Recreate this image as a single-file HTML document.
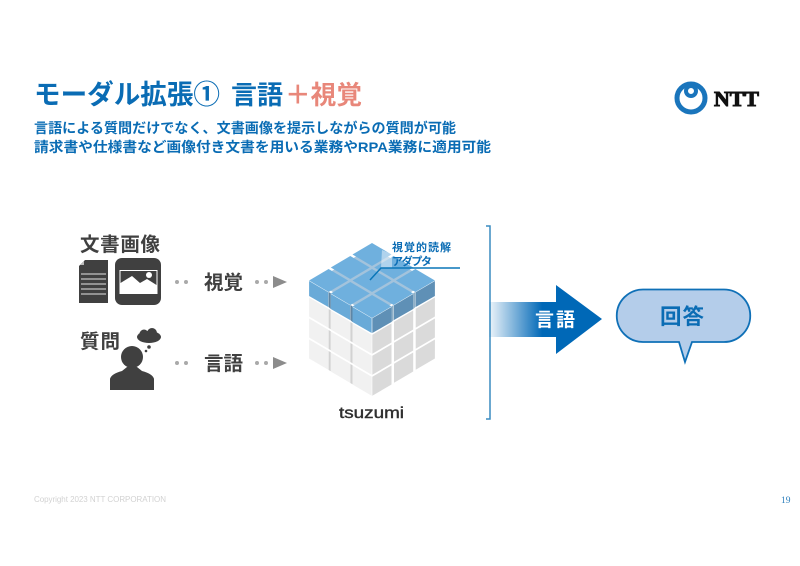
<!DOCTYPE html>
<html lang="ja"><head><meta charset="utf-8"><title>モーダル拡張</title>
<style>html,body{margin:0;padding:0;background:#fff;width:800px;height:566px;overflow:hidden}svg{display:block}
text{font-family:"Liberation Sans","Noto Sans CJK JP",sans-serif}</style></head>
<body>
<svg width="800" height="566" viewBox="0 0 800 566" xmlns="http://www.w3.org/2000/svg">
<defs>
<linearGradient id="ag" x1="488" x2="556" y1="0" y2="0" gradientUnits="userSpaceOnUse"><stop offset="0" stop-color="#0068b7" stop-opacity=".05"/><stop offset=".8" stop-color="#0068b7"/><stop offset="1" stop-color="#0068b7"/></linearGradient>
<polygon id="t" points="0,0 19.5,11.5 0,23 -19.5,11.5" fill="#6fb0de"/>
<polygon id="bl" points="-19.5,12 -0.3,23.3 -0.3,38 -19.5,27" fill="#69aad8"/>
<polygon id="br" points="19.5,12 0.3,23.3 0.3,38 19.500,27" fill="#5f90b6"/>
<polygon id="l" points="-19.5,-11.500 -0.3,-0.2 -0.3,18.8 -19.5,7.500" fill="#f1f1f1"/>
<polygon id="s" points="0,0 2.200,1.300 2.200,20.300 0,19" fill="#d2d2d2"/>
<polygon id="r" points="19.5,-11.500 0.3,-0.2 0.3,18.800 19.500,7.500" fill="#dadada"/>
</defs>

<!-- heading -->
<text x="34" y="104" font-size="27" font-weight="700" fill="#0a6cb4" textLength="186" lengthAdjust="spacingAndGlyphs">モーダル拡張①</text>
<text x="231" y="104" font-size="26" font-weight="700" fill="#0a6cb4" textLength="52" lengthAdjust="spacingAndGlyphs">言語</text>
<text x="285" y="104" font-size="26" font-weight="700" fill="#e8877a" textLength="77" lengthAdjust="spacingAndGlyphs">＋視覚</text>
<text x="34" y="133" font-size="14" font-weight="700" fill="#0a6cb4" textLength="422" lengthAdjust="spacingAndGlyphs">言語による質問だけでなく、文書画像を提示しながらの質問が可能</text>
<text x="34" y="152" font-size="14" font-weight="700" fill="#0a6cb4" textLength="457" lengthAdjust="spacingAndGlyphs">請求書や仕様書など画像付き文書を用いる業務やRPA業務に適用可能</text>

<!-- NTT logo -->
<circle cx="691" cy="98" r="14" fill="none" stroke="#1a75bc" stroke-width="5"/>
<circle cx="691" cy="91" r="5" fill="none" stroke="#1a75bc" stroke-width="4"/>
<text x="714" y="106" font-size="21" font-weight="700" fill="#111" textLength="45" lengthAdjust="spacingAndGlyphs" style='font-family:"Liberation Serif",serif;stroke:#111;stroke-width:1'>NTT</text>

<!-- left inputs -->
<text x="80" y="251" font-size="19.500" font-weight="700" fill="#404040" textLength="80">文書画像</text>
<polygon points="85,260 108,260 108,303 79,303 79,266" fill="#404040"/>
<polygon points="84,261 84,265 80,265" fill="#bbb"/>
<g stroke="#e4e4e4" stroke-width="1"><line x1="81" x2="106" y1="274" y2="274"/><line x1="81" x2="106" y1="279" y2="279"/><line x1="81" x2="106" y1="284" y2="284"/><line x1="81" x2="106" y1="289" y2="289"/><line x1="81" x2="106" y1="294" y2="294"/></g>
<rect x="115" y="258" width="46" height="47" rx="7" fill="#404040"/>
<rect x="119.500" y="270" width="38" height="24" fill="#fff"/>
<polygon points="120.500,271 156.500,271 156.500,285 147,279 140,283 132,276 120.500,283" fill="#404040"/>
<circle cx="149" cy="275" r="3" fill="#fff"/>
<text x="80" y="348" font-size="19.500" font-weight="700" fill="#404040" textLength="40">質問</text>
<circle cx="132" cy="357" r="11" fill="#404040"/>
<path d="M110,390 V379 Q111,374 122,371 L127,367 H137 L142,371 Q153,374 154,379 V390 Z" fill="#404040"/>
<g fill="#404040"><ellipse cx="149" cy="337" rx="12" ry="6"/><circle cx="144" cy="334" r="4.500"/><circle cx="152" cy="333" r="5"/><circle cx="149" cy="347" r="1.800"/><circle cx="146" cy="351" r="1.300"/></g>

<g fill="#a9a9a9"><circle cx="177" cy="282" r="2"/><circle cx="186" cy="282" r="2"/><circle cx="257" cy="282" r="2"/><circle cx="266" cy="282" r="2"/><circle cx="177" cy="363" r="2"/><circle cx="186" cy="363" r="2"/><circle cx="257" cy="363" r="2"/><circle cx="266" cy="363" r="2"/></g>
<polygon points="273,276 287,282 273,288" fill="#8c8c8c"/>
<polygon points="273,357 287,363 273,369" fill="#8c8c8c"/>
<text x="204" y="289" font-size="19.500" font-weight="700" fill="#404040" textLength="39">視覚</text>
<text x="204" y="370" font-size="19.500" font-weight="700" fill="#404040" textLength="39">言語</text>

<!-- cube lower layers -->
<g>
<use href="#l" x="328.600" y="309"/><use href="#s" x="328.600" y="309"/><use href="#l" x="350.300" y="322"/><use href="#s" x="350.300" y="322"/><use href="#l" x="372" y="335"/>
<use href="#l" x="328.600" y="330"/><use href="#s" x="328.600" y="330"/><use href="#l" x="350.300" y="343"/><use href="#s" x="350.300" y="343"/><use href="#l" x="372" y="356"/>
<use href="#l" x="328.600" y="351"/><use href="#s" x="328.600" y="351"/><use href="#l" x="350.300" y="364"/><use href="#s" x="350.300" y="364"/><use href="#l" x="372" y="377"/>
<use href="#r" x="372" y="335"/><use href="#r" x="393.700" y="322"/><use href="#r" x="415.400" y="309"/>
<use href="#r" x="372" y="356"/><use href="#r" x="393.700" y="343"/><use href="#r" x="415.400" y="330"/>
<use href="#r" x="372" y="377"/><use href="#r" x="393.700" y="364"/><use href="#r" x="415.400" y="351"/>
</g>
<!-- cube blue layer -->
<polygon points="372,247 429,281 372,316 315,281" fill="#a3c3dc"/>
<polygon points="328.600,292 330.800,293.300 330.800,309 328.600,307" fill="#5f86a5"/>
<polygon points="350.300,305 352.500,306.300 352.500,322 350.300,320" fill="#5f86a5"/>
<polygon points="391.500,306.300 393.700,305 393.700,320 391.500,322" fill="#8fb0c8"/>
<polygon points="413.200,293.300 415.400,292 415.400,307 413.200,309" fill="#8fb0c8"/>
<g>
<use href="#t" x="372" y="243"/>
<use href="#t" x="350.300" y="256"/><use href="#t" x="393.700" y="256"/>
<use href="#t" x="328.600" y="269"/><use href="#t" x="372" y="269"/><use href="#t" x="415.400" y="269"/>
<use href="#t" x="350.300" y="282"/><use href="#t" x="393.700" y="282"/>
<use href="#t" x="372" y="295"/>
<use href="#bl" x="328.600" y="269"/><use href="#bl" x="350.300" y="282"/><use href="#bl" x="372" y="295"/>
<use href="#br" x="372" y="295"/><use href="#br" x="393.700" y="282"/><use href="#br" x="415.400" y="269"/>
</g>
<polygon points="382,250 392,254 392,268 381,268" fill="#fff" fill-opacity=".45"/>
<polyline points="370,280 381,268 460,268" fill="none" stroke="#0a76b8" stroke-width="1.500"/>
<text x="392" y="251" font-size="11" font-weight="700" fill="#0a6cb4" textLength="59">視覚的読解</text>
<text x="392" y="265" font-size="11" font-weight="700" fill="#0a6cb4" textLength="40">アダプタ</text>
<text x="339" y="418" font-size="15.500" fill="#2f2f2f" textLength="65" lengthAdjust="spacingAndGlyphs" style="stroke:#2f2f2f;stroke-width:.4">tsuzumi</text>

<!-- bracket and arrow -->
<polyline points="486,226 490,226 490,419 486,419" fill="none" stroke="#3a8cc0" stroke-width="1.500"/>
<polygon points="489,302 556,302 556,285 602,319 556,354 556,337 489,337" fill="url(#ag)"/>
<text x="535" y="326" font-size="19" font-weight="700" fill="#fff" textLength="40">言語</text>

<!-- answer bubble -->
<path d="M643,289.500 H724 A26,26 0 0 1 724,342 H692 L685,362 L679,342 H643 A26,26 0 0 1 643,289.500 Z" fill="#b4cdea" stroke="#0f70b7" stroke-width="1.800"/>
<text x="660" y="324" font-size="21.500" font-weight="700" fill="#0a6cb4" textLength="44">回答</text>

<!-- footer -->
<text x="34" y="502" font-size="8" fill="#d2d2d2" textLength="132">Copyright 2023 NTT CORPORATION</text>
<text x="781" y="503" font-size="9.500" fill="#2f80bd" style='font-family:"Liberation Serif",serif'>19</text>
</svg>
</body></html>
